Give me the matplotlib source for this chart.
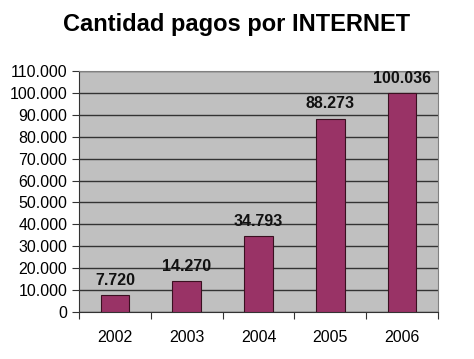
import numpy as np
import matplotlib.pyplot as plt
from matplotlib.ticker import FuncFormatter

plt.rcParams['font.family'] = ['Liberation Sans', 'DejaVu Sans']

years = ['2002', '2003', '2004', '2005', '2006']
pagos = [7720, 14270, 34793, 88273, 100036]
etiquetas = ['7.720', '14.270', '34.793', '88.273', '100.036']


def miles(v, pos):
    return '{:,.0f}'.format(v).replace(',', '.')


fig = plt.figure(figsize=(4.74, 3.59), dpi=100)
ax = fig.add_axes([79 / 474, 1 - 312 / 359, (438 - 79) / 474, (312 - 71) / 359])
ax.set_facecolor('#c0c0c0')

x = np.arange(len(years))
ax.bar(x, pagos, width=0.4, color='#993366', edgecolor='#3a1020', linewidth=0.8, zorder=3)
for xi, v, t in zip(x, pagos, etiquetas):
    ax.text(xi, v + 3300, t, ha='center', va='bottom', fontsize=11.5,
            fontweight='bold', color='#111111', zorder=4)

ax.set_xlim(-0.5, len(years) - 0.5)
ax.set_ylim(0, 110000)
ax.set_yticks(np.arange(0, 110001, 10000))
ax.yaxis.set_major_formatter(FuncFormatter(miles))
ax.yaxis.grid(True, color='#333333', linewidth=1.0, zorder=1)

# marcas del eje x entre categorías
ax.set_xticks(np.arange(-0.5, len(years), 1.0))
ax.set_xticklabels([])
ax.set_xticks(x, minor=True)
ax.set_xticklabels(years, minor=True, fontsize=11.5)
ax.tick_params(axis='x', which='minor', length=0, pad=13)
ax.tick_params(axis='x', which='major', length=5, direction='out', color='#333333')
ax.tick_params(axis='y', length=5, direction='out', labelsize=11.5, color='#333333')

for s in ['top', 'right']:
    ax.spines[s].set_color('#808080')
for s in ['left', 'bottom']:
    ax.spines[s].set_color('#333333')

fig.text(0.5, 1 - 25 / 359, 'Cantidad pagos por INTERNET', ha='center', va='center',
         fontsize=17, fontweight='bold')

fig.savefig('out.png', dpi=100)
